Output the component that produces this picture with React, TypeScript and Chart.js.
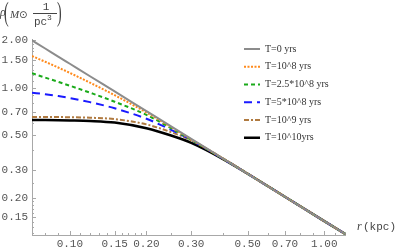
import React, { useEffect, useRef } from "react";
import { Chart, registerables } from "chart.js";

Chart.register(...registerables);

// ---- data ----
const radii = [0.071, 0.08, 0.09, 0.1, 0.12, 0.15, 0.2, 0.25, 0.3, 0.4, 0.5, 0.7, 1.0, 1.217];
const rhoT0 = [2.0, 1.775, 1.578, 1.42, 1.183, 0.947, 0.71, 0.568, 0.473, 0.355, 0.284, 0.203, 0.142, 0.117];
const rhoT1e8 = [1.59, 1.462, 1.344, 1.242, 1.077, 0.897, 0.696, 0.562, 0.469, 0.355, 0.284, 0.203, 0.142, 0.117];
const rhoT25e8 = [1.235, 1.16, 1.09, 1.03, 0.93, 0.815, 0.672, 0.553, 0.466, 0.354, 0.284, 0.203, 0.142, 0.117];
const rhoT5e8 = [0.93, 0.91, 0.885, 0.86, 0.81, 0.74, 0.635, 0.54, 0.465, 0.353, 0.284, 0.203, 0.142, 0.117];
const rhoT1e9 = [0.652, 0.652, 0.651, 0.65, 0.645, 0.632, 0.585, 0.522, 0.463, 0.356, 0.285, 0.203, 0.142, 0.117];
const rhoT1e10 = [0.623, 0.623, 0.622, 0.62, 0.615, 0.601, 0.553, 0.497, 0.446, 0.352, 0.284, 0.203, 0.142, 0.117];

const seriesLabels = ["T=0 yrs", "T=10^8 yrs", "T=2.5*10^8 yrs", "T=5*10^8 yrs", "T=10^9 yrs", "T=10^10yrs"];

const xTicks = [0.1, 0.15, 0.2, 0.3, 0.5, 0.7, 1.0];
const xTickLabels = ["0.10", "0.15", "0.20", "0.30", "0.50", "0.70", "1.00"];
const xMinorTicks = [0.08, 0.09, 0.11, 0.12, 0.13, 0.14, 0.16, 0.17, 0.18, 0.19, 0.25, 0.4, 0.6, 0.8, 0.9, 1.1, 1.2];
const yTicks = [0.15, 0.2, 0.3, 0.5, 0.7, 1.0, 1.5, 2.0];
const yTickLabels = ["0.15", "0.20", "0.30", "0.50", "0.70", "1.00", "1.50", "2.00"];
const yMinorTicks = [0.12, 0.13, 0.14, 0.16, 0.17, 0.18, 0.19, 0.25, 0.4, 0.6, 0.8, 0.9, 1.1, 1.2, 1.3, 1.4, 1.6, 1.7, 1.8, 1.9];

const X_MIN = 0.071;
const X_MAX = 1.217;
const Y_MIN = 0.116;
const Y_MAX = 2.04;

const toPoints = (ys: number[]) => radii.map((r, i) => ({ x: r, y: ys[i] }));

const MONO = '"Liberation Mono", "DejaVu Sans Mono", monospace';
const SERIF = '"Liberation Serif", "DejaVu Serif", serif';

const axesPlugin = {
  id: "mmaAxes",
  beforeDatasetsDraw(chart: any) {
    const ctx: CanvasRenderingContext2D = chart.ctx;
    const { left, right, top, bottom } = chart.chartArea;
    const xs = chart.scales.x;
    const ys = chart.scales.y;
    ctx.save();
    ctx.strokeStyle = "#a8a8a8";
    ctx.lineWidth = 1;
    ctx.beginPath();
    ctx.moveTo(left, bottom + 0.5);
    ctx.lineTo(right, bottom + 0.5);
    ctx.moveTo(left + 0.5, top);
    ctx.lineTo(left + 0.5, bottom);
    ctx.stroke();

    ctx.beginPath();
    xTicks.forEach((v) => {
      const px = Math.round(xs.getPixelForValue(v)) + 0.5;
      ctx.moveTo(px, bottom);
      ctx.lineTo(px, bottom - 4);
    });
    xMinorTicks.forEach((v) => {
      const px = Math.round(xs.getPixelForValue(v)) + 0.5;
      if (px < left || px > right) return;
      ctx.moveTo(px, bottom);
      ctx.lineTo(px, bottom - 2);
    });
    yTicks.forEach((v) => {
      const py = Math.round(ys.getPixelForValue(v)) + 0.5;
      ctx.moveTo(left, py);
      ctx.lineTo(left + 4, py);
    });
    yMinorTicks.forEach((v) => {
      const py = Math.round(ys.getPixelForValue(v)) + 0.5;
      if (py < top || py > bottom) return;
      ctx.moveTo(left, py);
      ctx.lineTo(left + 2, py);
    });
    ctx.stroke();

    ctx.fillStyle = "#555";
    ctx.font = `11px ${MONO}`;
    ctx.textAlign = "center";
    ctx.textBaseline = "top";
    xTicks.forEach((v, i) => {
      ctx.fillText(xTickLabels[i], xs.getPixelForValue(v), bottom + 4);
    });
    ctx.textAlign = "right";
    ctx.textBaseline = "middle";
    yTicks.forEach((v, i) => {
      ctx.fillText(yTickLabels[i], left - 4, ys.getPixelForValue(v));
    });

    // x-axis label
    ctx.textAlign = "left";
    ctx.fillStyle = "#444";
    ctx.font = `italic 12px ${SERIF}`;
    ctx.fillText("r", right + 11, bottom - 8);
    ctx.font = `11px ${MONO}`;
    ctx.fillText("(kpc)", right + 17, bottom - 8);

    // y-axis label  ρ( M⊙ 1/pc³ )
    ctx.font = `italic 12px ${SERIF}`;
    ctx.fillText("\u03c1", 0, 13);
    ctx.save();
    ctx.font = `14px ${SERIF}`;
    ctx.translate(4, 14);
    ctx.scale(1, 2);
    ctx.fillText("(", 0, 0);
    ctx.restore();
    ctx.font = `italic 11px ${SERIF}`;
    ctx.fillText("M", 10, 15);
    ctx.font = `10px "DejaVu Sans"`;
    ctx.fillText("\u2299", 19, 15);
    ctx.font = `11px ${MONO}`;
    ctx.textAlign = "center";
    ctx.fillText("1", 46, 7);
    ctx.textAlign = "left";
    ctx.fillText("pc", 34, 22);
    ctx.font = `8px ${MONO}`;
    ctx.fillText("3", 47, 18);
    ctx.strokeStyle = "#444";
    ctx.beginPath();
    ctx.moveTo(33, 13.5);
    ctx.lineTo(57, 13.5);
    ctx.stroke();
    ctx.save();
    ctx.font = `14px ${SERIF}`;
    ctx.translate(57, 14);
    ctx.scale(1, 2);
    ctx.fillText(")", 0, 0);
    ctx.restore();
    ctx.restore();
  },
  afterDraw(chart: any) {
    const ctx: CanvasRenderingContext2D = chart.ctx;
    const x0 = 244;
    const x1 = 260;
    const yStart = 49;
    const step = 17.75;
    ctx.save();
    chart.data.datasets.forEach((ds: any, i: number) => {
      const y = yStart + i * step;
      ctx.strokeStyle = ds.borderColor;
      ctx.lineWidth = ds.borderWidth;
      ctx.setLineDash(ds.borderDash || []);
      ctx.beginPath();
      ctx.moveTo(x0, y);
      ctx.lineTo(x1, y);
      ctx.stroke();
      ctx.setLineDash([]);
      ctx.fillStyle = "#333";
      ctx.font = `10px ${SERIF}`;
      ctx.textAlign = "left";
      ctx.textBaseline = "middle";
      ctx.fillText(ds.label, 265, y);
    });
    ctx.restore();
  },
};

export default function App() {
  const canvasRef = useRef<HTMLCanvasElement | null>(null);

  useEffect(() => {
    if (!canvasRef.current) return;
    const chart = new Chart(canvasRef.current, {
      type: "line",
      data: {
        datasets: [
          { label: seriesLabels[0], data: toPoints(rhoT0), borderColor: "#8c8c8c", borderWidth: 2, borderDash: [] },
          { label: seriesLabels[1], data: toPoints(rhoT1e8), borderColor: "#ff8a1c", borderWidth: 2, borderDash: [2, 1.5] },
          { label: seriesLabels[2], data: toPoints(rhoT25e8), borderColor: "#1aaa1a", borderWidth: 2, borderDash: [4, 3] },
          { label: seriesLabels[3], data: toPoints(rhoT5e8), borderColor: "#1a1aff", borderWidth: 2, borderDash: [8, 5] },
          { label: seriesLabels[4], data: toPoints(rhoT1e9), borderColor: "#b07a40", borderWidth: 2, borderDash: [5, 2, 2, 2] },
          { label: seriesLabels[5], data: toPoints(rhoT1e10), borderColor: "#000000", borderWidth: 2.5, borderDash: [] },
        ].map((d) => ({ ...d, pointRadius: 0, fill: false, cubicInterpolationMode: "monotone" as const })),
      },
      options: {
        responsive: false,
        animation: false,
        layout: { padding: { left: 32, top: 39, right: 53, bottom: 15 } },
        plugins: { legend: { display: false }, tooltip: { enabled: false } },
        scales: {
          x: { type: "logarithmic", min: X_MIN, max: X_MAX, display: false },
          y: { type: "logarithmic", min: Y_MIN, max: Y_MAX, display: false },
        },
      },
      plugins: [axesPlugin],
    });
    return () => chart.destroy();
  }, []);

  return (
    <div style={{ position: "fixed", left: 0, top: 0, width: 399, height: 250, background: "#fff" }}>
      <canvas ref={canvasRef} width={399} height={250} style={{ display: "block" }} />
    </div>
  );
}
